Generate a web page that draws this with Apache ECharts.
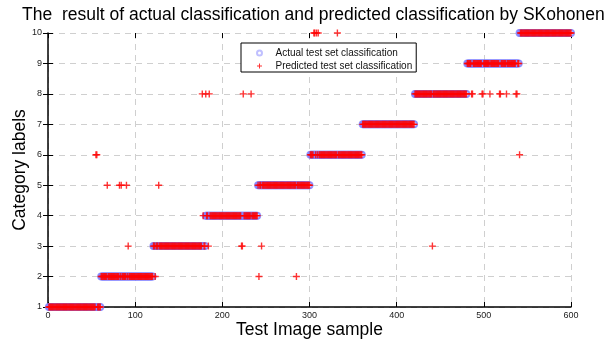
<!DOCTYPE html>
<html>
<head>
<meta charset="utf-8">
<script src="https://cdn.jsdelivr.net/npm/echarts@6/dist/echarts.min.js"></script>
<style>
  html, body { margin: 0; padding: 0; background: #fff; }
  #chart { width: 610px; height: 339px; }
</style>
</head>
<body>
<div id="chart"></div>
<script>
var xTicks = [0, 100, 200, 300, 400, 500, 600];
var yTicks = [1, 2, 3, 4, 5, 6, 7, 8, 9, 10];

// actual class of each test sample: [first sample, last sample, label]
var actualRuns = [
    [1, 60, 1], [61, 120, 2], [121, 180, 3], [181, 240, 4], [241, 300, 5],
    [301, 360, 6], [361, 420, 7], [421, 480, 8], [481, 540, 9], [541, 600, 10]
];

// samples the network got wrong: [sample, predicted label]
var mispredicted = [
    [55, 6], [56, 6],
    [68, 5], [82, 5], [84, 5], [90, 5], [92, 3],
    [123, 2], [127, 5], [177, 8], [178, 4],
    [181, 8], [184, 3], [185, 8], [222, 3], [223, 3], [224, 8], [233, 8],
    [242, 2], [245, 3], [285, 2],
    [305, 10], [306, 10], [308, 10], [310, 10], [332, 10],
    [441, 3],
    [486, 8], [487, 8], [498, 8], [499, 8], [507, 8], [518, 8], [519, 8], [526, 8], [537, 8], [538, 8],
    [541, 6]
];

var actual = [];
actualRuns.forEach(function (r) {
    for (var s = r[0]; s <= r[1]; s++) actual.push([s, r[2]]);
});
var wrong = {};
mispredicted.forEach(function (m) { wrong[m[0]] = m[1]; });
var predicted = actual.map(function (p) {
    return [p[0], wrong[p[0]] !== undefined ? wrong[p[0]] : p[1]];
});

var plus = 'path://M-1,-5H1V-1H5V1H1V5H-1V1H-5V-1H-1Z';
var font = 'Liberation Sans, Arial, Helvetica, sans-serif';
var gridLine = { show: true, lineStyle: { color: '#cfcfcf', type: [6, 5], width: 1 } };

var chart = echarts.init(document.getElementById('chart'));
chart.setOption({
    animation: false,
    backgroundColor: '#fff',
    textStyle: { fontFamily: font },
    title: {
        text: 'The  result of actual classification and predicted classification by SKohonen',
        left: 22, top: 6, padding: 0,
        textStyle: { fontSize: 17.5, fontWeight: 'normal', color: '#000', fontFamily: font }
    },
    legend: {
        orient: 'vertical',
        left: 241, top: 43,
        padding: [5, 4, 1, 15],
        itemWidth: 22, itemHeight: 5, itemGap: 3,
        backgroundColor: '#fff',
        borderColor: '#000', borderWidth: 1, borderRadius: 0,
        textStyle: { fontSize: 10, color: '#111', fontFamily: font },
        data: [
            { name: 'Actual test set classification', icon: 'emptyCircle',
              itemStyle: { color: '#b0b0ff', borderColor: '#b0b0ff', borderWidth: 1 } },
            { name: 'Predicted test set classification' }
        ]
    },
    grid: { left: 48, right: 39, top: 33, bottom: 32, outerBoundsMode: 'none', containLabel: false },
    xAxis: [{
        type: 'value',
        min: xTicks[0], max: xTicks[xTicks.length - 1], interval: xTicks[1] - xTicks[0],
        name: 'Test Image sample', nameLocation: 'middle', nameGap: 14, nameMoveOverlap: false,
        nameTextStyle: { fontSize: 17.5, color: '#000', fontFamily: font },
        axisLine: { show: true, onZero: false, lineStyle: { color: '#000', width: 1.5 } },
        axisTick: { show: true, inside: true, length: 5, lineStyle: { color: '#000' } },
        axisLabel: { fontSize: 9, color: '#222', margin: 4 },
        splitLine: gridLine
    }, {
        type: 'value', position: 'top',
        min: xTicks[0], max: xTicks[xTicks.length - 1], interval: xTicks[1] - xTicks[0],
        axisLine: { show: false },
        axisTick: { show: true, inside: true, length: 5, lineStyle: { color: '#000' } },
        axisLabel: { show: false }, splitLine: { show: false }
    }],
    yAxis: [{
        type: 'value',
        min: yTicks[0], max: yTicks[yTicks.length - 1], interval: yTicks[1] - yTicks[0],
        name: 'Category labels', nameLocation: 'middle', nameGap: 19, nameMoveOverlap: false,
        nameTextStyle: { fontSize: 17.5, color: '#000', fontFamily: font },
        axisLine: { show: true, onZero: false, lineStyle: { color: '#000', width: 1.5 } },
        axisTick: { show: true, inside: true, length: 5, lineStyle: { color: '#000' } },
        axisLabel: { fontSize: 9, color: '#222', margin: 6 },
        splitLine: gridLine
    }, {
        type: 'value', position: 'right',
        min: yTicks[0], max: yTicks[yTicks.length - 1], interval: yTicks[1] - yTicks[0],
        axisLine: { show: false },
        axisTick: { show: true, inside: true, length: 5, lineStyle: { color: '#000' } },
        axisLabel: { show: false }, splitLine: { show: false }
    }],
    series: [{
        name: 'Actual test set classification',
        type: 'scatter',
        symbol: 'emptyCircle',
        symbolSize: 6,
        itemStyle: { color: '#8080ff', borderColor: '#8080ff', borderWidth: 1 },
        data: actual
    }, {
        name: 'Predicted test set classification',
        type: 'scatter',
        symbol: plus,
        symbolSize: 7,
        itemStyle: { color: '#ff0000' },
        data: predicted
    }]
});
</script>
</body>
</html>
